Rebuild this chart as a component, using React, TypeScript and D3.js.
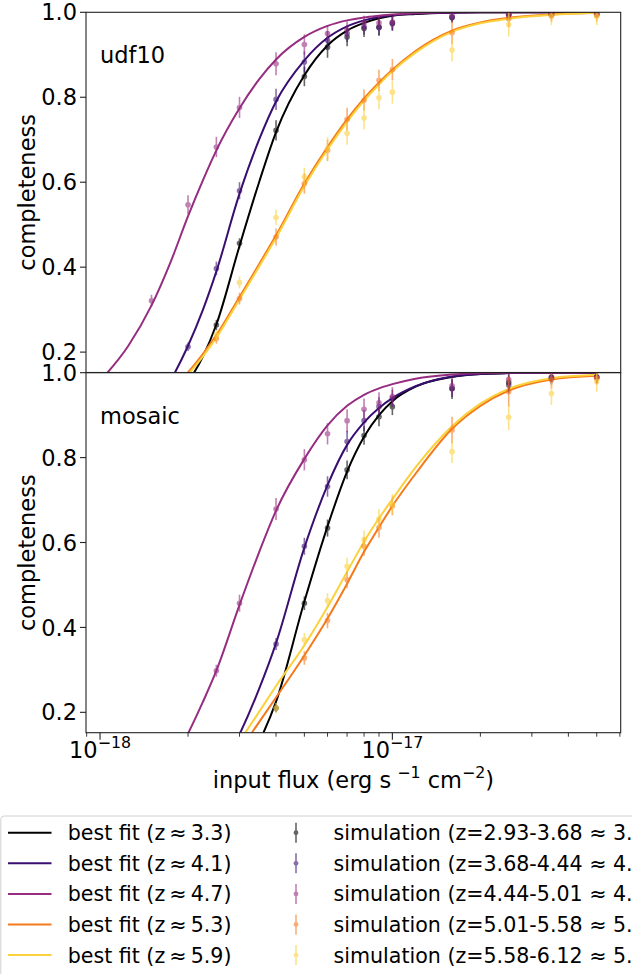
import React from 'react';
import * as d3 from 'd3';

// ---------- data (flux in units of 1e-18 erg s^-1 cm^-2) ----------
const simFlux = [1.5, 2, 2.5, 3, 4, 5, 6, 7, 8, 9, 10, 16, 25, 35, 50];
const fitFlux = [1.0, 1.25, 1.5, 1.75, 2, 2.25, 2.5, 3, 3.5, 4, 5, 6, 7, 8, 9, 10, 12, 16, 20, 25, 35, 50];

const seriesColors = ['#000000', '#3b0f70', '#962d80', '#f57a1c', '#fbd13c'];
const fitLabels = ['best fit (z\u2009≈\u20093.3)', 'best fit (z\u2009≈\u20094.1)', 'best fit (z\u2009≈\u20094.7)', 'best fit (z\u2009≈\u20095.3)', 'best fit (z\u2009≈\u20095.9)'];
const simLabels = [
  'simulation (z=2.93-3.68 ≈ 3.3)',
  'simulation (z=3.68-4.44 ≈ 4.1)',
  'simulation (z=4.44-5.01 ≈ 4.7)',
  'simulation (z=5.01-5.58 ≈ 5.3)',
  'simulation (z=5.58-6.12 ≈ 5.9)',
];
const panelNames = ['udf10', 'mosaic'];
const yTicks = [0.2, 0.4, 0.6, 0.8, 1.0];

// udf10 best fits
const udfFit33 = [0.01, 0.025, 0.048, 0.085, 0.13, 0.19, 0.265, 0.45, 0.6, 0.718, 0.852, 0.922, 0.957, 0.975, 0.986, 0.992, 0.996, 0.999, 1.0, 1.0, 1.0, 1.0];
const udfFit41 = [0.005, 0.02, 0.06, 0.135, 0.215, 0.3, 0.39, 0.573, 0.7, 0.79, 0.887, 0.94, 0.967, 0.981, 0.989, 0.993, 0.997, 0.999, 1.0, 1.0, 1.0, 1.0];
const udfFit47 = [0.132, 0.215, 0.31, 0.415, 0.52, 0.605, 0.675, 0.774, 0.842, 0.889, 0.942, 0.968, 0.981, 0.988, 0.992, 0.995, 0.998, 1.0, 1.0, 1.0, 1.0, 1.0];
const udfFit53 = [0.02, 0.045, 0.075, 0.11, 0.152, 0.196, 0.24, 0.33, 0.407, 0.475, 0.597, 0.683, 0.748, 0.797, 0.835, 0.865, 0.909, 0.957, 0.976, 0.987, 0.995, 0.999];
const udfFit59 = [0.018, 0.042, 0.071, 0.105, 0.147, 0.19, 0.234, 0.324, 0.401, 0.469, 0.591, 0.677, 0.742, 0.792, 0.83, 0.861, 0.905, 0.954, 0.974, 0.985, 0.994, 0.999];

// mosaic best fits
const mosFit33 = [0, 0, 0, 0, 0, 0.005, 0.015, 0.05, 0.13, 0.225, 0.461, 0.638, 0.767, 0.849, 0.9, 0.933, 0.967, 0.99, 0.997, 0.999, 1.0, 1.0];
const mosFit41 = [0, 0, 0, 0, 0, 0.01, 0.045, 0.148, 0.255, 0.363, 0.588, 0.735, 0.83, 0.883, 0.917, 0.94, 0.968, 0.991, 0.997, 0.999, 1.0, 1.0];
const mosFit47 = [0, 0, 0.02, 0.075, 0.15, 0.225, 0.298, 0.453, 0.577, 0.675, 0.797, 0.876, 0.922, 0.948, 0.963, 0.973, 0.986, 0.996, 0.999, 1.0, 1.0, 1.0];
const mosFit53 = [0, 0, 0, 0, 0, 0.005, 0.04, 0.11, 0.177, 0.235, 0.334, 0.421, 0.503, 0.578, 0.636, 0.686, 0.762, 0.868, 0.922, 0.958, 0.984, 0.993];
const mosFit59 = [0, 0, 0, 0, 0, 0.01, 0.055, 0.132, 0.201, 0.262, 0.358, 0.448, 0.531, 0.602, 0.657, 0.702, 0.777, 0.874, 0.927, 0.962, 0.987, 0.995];

// udf10 simulation points and errors
const udfSim33 = [null, null, 0.264, 0.456, 0.722, 0.849, 0.918, 0.942, 0.962, 0.965, 0.975, 0.988, 0.995, 0.997, 0.997];
const udfErr33 = [null, null, 0.012, 0.012, 0.024, 0.023, 0.025, 0.022, 0.02, 0.02, 0.018, 0.012, 0.008, 0.008, 0.008];
const udfSim41 = [null, 0.2125, 0.397, 0.58, 0.795, 0.883, 0.934, 0.95, 0.966, 0.964, 0.973, 0.988, 0.993, 0.995, 0.995];
const udfErr41 = [null, 0.01, 0.016, 0.02, 0.025, 0.025, 0.022, 0.02, 0.018, 0.018, 0.016, 0.012, 0.01, 0.008, 0.008];
const udfSim47 = [0.321, 0.547, 0.683, 0.776, 0.879, 0.924, 0.95, 0.959, 0.975, 0.975, 0.977, 0.993, 0.995, 0.993, 0.995];
const udfErr47 = [0.014, 0.022, 0.024, 0.025, 0.027, 0.024, 0.02, 0.02, 0.017, 0.016, 0.015, 0.01, 0.008, 0.008, 0.008];
const udfSim53 = [null, null, 0.232, 0.326, 0.471, 0.597, 0.675, 0.748, 0.793, 0.84, 0.865, 0.952, 0.985, 0.993, 0.993];
const udfErr53 = [null, null, 0.012, 0.014, 0.02, 0.024, 0.025, 0.027, 0.025, 0.025, 0.025, 0.027, 0.02, 0.015, 0.015];
const udfSim59 = [null, null, 0.24, 0.364, 0.517, 0.612, 0.679, 0.715, 0.751, 0.799, 0.812, 0.911, 0.971, 0.99, 0.99];
const udfErr59 = [null, null, 0.012, 0.014, 0.018, 0.022, 0.027, 0.027, 0.027, 0.027, 0.027, 0.027, 0.028, 0.02, 0.02];

// mosaic simulation points and errors
const mosSim33 = [null, null, null, null, 0.21, 0.457, 0.634, 0.771, 0.852, 0.896, 0.92, 0.962, 0.977, 0.99, 0.99];
const mosErr33 = [null, null, null, null, 0.01, 0.016, 0.02, 0.022, 0.022, 0.022, 0.02, 0.024, 0.02, 0.015, 0.015];
const mosSim41 = [null, null, null, null, 0.361, 0.591, 0.732, 0.838, 0.887, 0.92, 0.94, 0.963, 0.971, 0.987, 0.99];
const mosErr41 = [null, null, null, null, 0.014, 0.02, 0.024, 0.025, 0.025, 0.022, 0.02, 0.02, 0.02, 0.015, 0.015];
const mosSim47 = [null, null, 0.298, 0.457, 0.679, 0.795, 0.856, 0.887, 0.914, 0.929, 0.944, 0.969, 0.984, 0.988, 0.988];
const mosErr47 = [null, null, 0.014, 0.02, 0.026, 0.025, 0.025, 0.027, 0.025, 0.025, 0.022, 0.02, 0.015, 0.012, 0.012];
const mosSim53 = [null, null, null, null, null, 0.328, 0.416, 0.512, 0.591, 0.635, 0.686, 0.865, 0.955, 0.983, 0.987];
const mosErr53 = [null, null, null, null, null, 0.016, 0.018, 0.02, 0.022, 0.024, 0.022, 0.031, 0.035, 0.02, 0.015];
const mosSim59 = [null, null, null, null, 0.21, 0.371, 0.463, 0.544, 0.606, 0.655, 0.69, 0.814, 0.895, 0.951, 0.979];
const mosErr59 = [null, null, null, null, 0.012, 0.016, 0.018, 0.02, 0.022, 0.024, 0.024, 0.027, 0.03, 0.027, 0.024];

const panelFits = [
  [udfFit33, udfFit41, udfFit47, udfFit53, udfFit59],
  [mosFit33, mosFit41, mosFit47, mosFit53, mosFit59],
];
const panelSims = [
  [udfSim33, udfSim41, udfSim47, udfSim53, udfSim59],
  [mosSim33, mosSim41, mosSim47, mosSim53, mosSim59],
];
const panelErrs = [
  [udfErr33, udfErr41, udfErr47, udfErr53, udfErr59],
  [mosErr33, mosErr41, mosErr47, mosErr53, mosErr59],
];

// ---------- layout ----------
const W = 632;
const H = 974;
const X0 = 86;
const X1 = 620.7;
const panelBox = [
  { top: 12.3, bottom: 372.5 },
  { top: 372.7, bottom: 732.7 },
];
const FONT = 'DejaVu Sans, Liberation Sans, sans-serif';
const TICK_FS = 22.5;
const LEG_FS = 20.6;
const SUP_FS = 15.8;
const UNIT = 1e-18;

const x = d3
  .scaleLog()
  .domain([Math.pow(10, -18.048), Math.pow(10, -16.219)])
  .range([X0, X1]);

export default function App() {
  const ticks = x.ticks().filter((t) => t >= x.domain()[0] && t <= x.domain()[1]);
  const isMajor = (t: number) => Math.abs(Math.log10(t) - Math.round(Math.log10(t))) < 1e-6;

  return (
    <svg
      width={W}
      height={H}
      viewBox={`0 0 ${W} ${H}`}
      style={{ position: 'absolute', left: 0, top: 0, display: 'block', background: '#fff' }}
      fontFamily={FONT}
    >
      <defs>
        {panelBox.map((b, i) => (
          <clipPath id={`clip${i}`} key={i}>
            <rect x={X0} y={b.top} width={X1 - X0} height={b.bottom - b.top} />
          </clipPath>
        ))}
      </defs>
      <rect x={0} y={0} width={W} height={H} fill="#fff" />

      {panelBox.map((b, pi) => {
        const y = d3.scaleLinear().domain([0.152, 1.0]).range([b.bottom, b.top]);
        const line = d3
          .line<number>()
          .x((_, i) => x(fitFlux[i] * UNIT))
          .y((d) => y(d))
          .curve(d3.curveMonotoneX);
        return (
          <g key={pi}>
            <g clipPath={`url(#clip${pi})`}>
              {panelFits[pi].map((fit, si) => (
                <path key={`f${si}`} d={line(fit) || ''} fill="none" stroke={seriesColors[si]} strokeWidth={2} />
              ))}
              {panelSims[pi].map((sim, si) => (
                <g key={`s${si}`} opacity={0.6}>
                  {sim.map((v, k) => {
                    if (v === null) return null;
                    const e = panelErrs[pi][si][k] || 0;
                    const px = x(simFlux[k] * UNIT);
                    return (
                      <g key={k}>
                        <line x1={px} x2={px} y1={y(v - e)} y2={y(v + e)} stroke={seriesColors[si]} strokeWidth={1.6} />
                        <circle cx={px} cy={y(v)} r={2.8} fill={seriesColors[si]} />
                      </g>
                    );
                  })}
                </g>
              ))}
            </g>
            {/* spines */}
            <rect x={X0} y={b.top} width={X1 - X0} height={b.bottom - b.top} fill="none" stroke="#222" strokeWidth={1.1} />
            {/* y ticks */}
            {yTicks.map((t) => (
              <g key={t}>
                <line x1={X0 - 6} x2={X0} y1={y(t)} y2={y(t)} stroke="#222" strokeWidth={1.1} />
                <text x={X0 - 9} y={y(t) + TICK_FS * 0.36} fontSize={TICK_FS} textAnchor="end" fill="#000">
                  {t.toFixed(1)}
                </text>
              </g>
            ))}
            <text
              x={35}
              y={(b.top + b.bottom) / 2}
              fontSize={TICK_FS}
              textAnchor="middle"
              transform={`rotate(-90, 35, ${(b.top + b.bottom) / 2})`}
              fill="#000"
            >
              completeness
            </text>
            <text x={100} y={b.top + 51} fontSize={TICK_FS} fill="#000">
              {panelNames[pi]}
            </text>
            {pi === 1 &&
              ticks.map((t, k) => {
                const major = isMajor(t);
                const px = x(t);
                return (
                  <g key={k}>
                    <line x1={px} x2={px} y1={b.bottom} y2={b.bottom + (major ? 7 : 4)} stroke="#222" strokeWidth={major ? 1.1 : 0.9} />
                    {major && (
                      <text x={px} y={758} fontSize={TICK_FS} textAnchor="middle" fill="#000">
                        10
                        <tspan fontSize={SUP_FS} dy={-10}>
                          {`−${Math.round(-Math.log10(t))}`}
                        </tspan>
                      </text>
                    )}
                  </g>
                );
              })}
          </g>
        );
      })}

      {/* x label */}
      <text x={(X0 + X1) / 2} y={788} fontSize={TICK_FS} textAnchor="middle" fill="#000">
        input flux (erg s
        <tspan fontSize={SUP_FS} dy={-10} dx={6}>−1</tspan>
        <tspan dy={10}> cm</tspan>
        <tspan fontSize={SUP_FS} dy={-10}>−2</tspan>
        <tspan dy={10}>)</tspan>
      </text>

      {/* legend */}
      <rect x={0.8} y={816} width={720} height={170} rx={4} fill="#fff" stroke="#d0d0d0" strokeWidth={1} />
      {fitLabels.map((lab, i) => {
        const cy = 832.7 + i * 30.6;
        return (
          <g key={i}>
            <line x1={8} x2={51.5} y1={cy} y2={cy} stroke={seriesColors[i]} strokeWidth={2} />
            <text x={67.7} y={cy + LEG_FS * 0.36} fontSize={LEG_FS} fill="#000">
              {lab}
            </text>
            <g opacity={0.6}>
              <line x1={296} x2={296} y1={cy - 10} y2={cy + 10} stroke={seriesColors[i]} strokeWidth={1.6} />
              <circle cx={296} cy={cy} r={2.4} fill={seriesColors[i]} />
            </g>
            <text x={333.5} y={cy + LEG_FS * 0.36} fontSize={LEG_FS} fill="#000">
              {simLabels[i]}
            </text>
          </g>
        );
      })}
    </svg>
  );
}
